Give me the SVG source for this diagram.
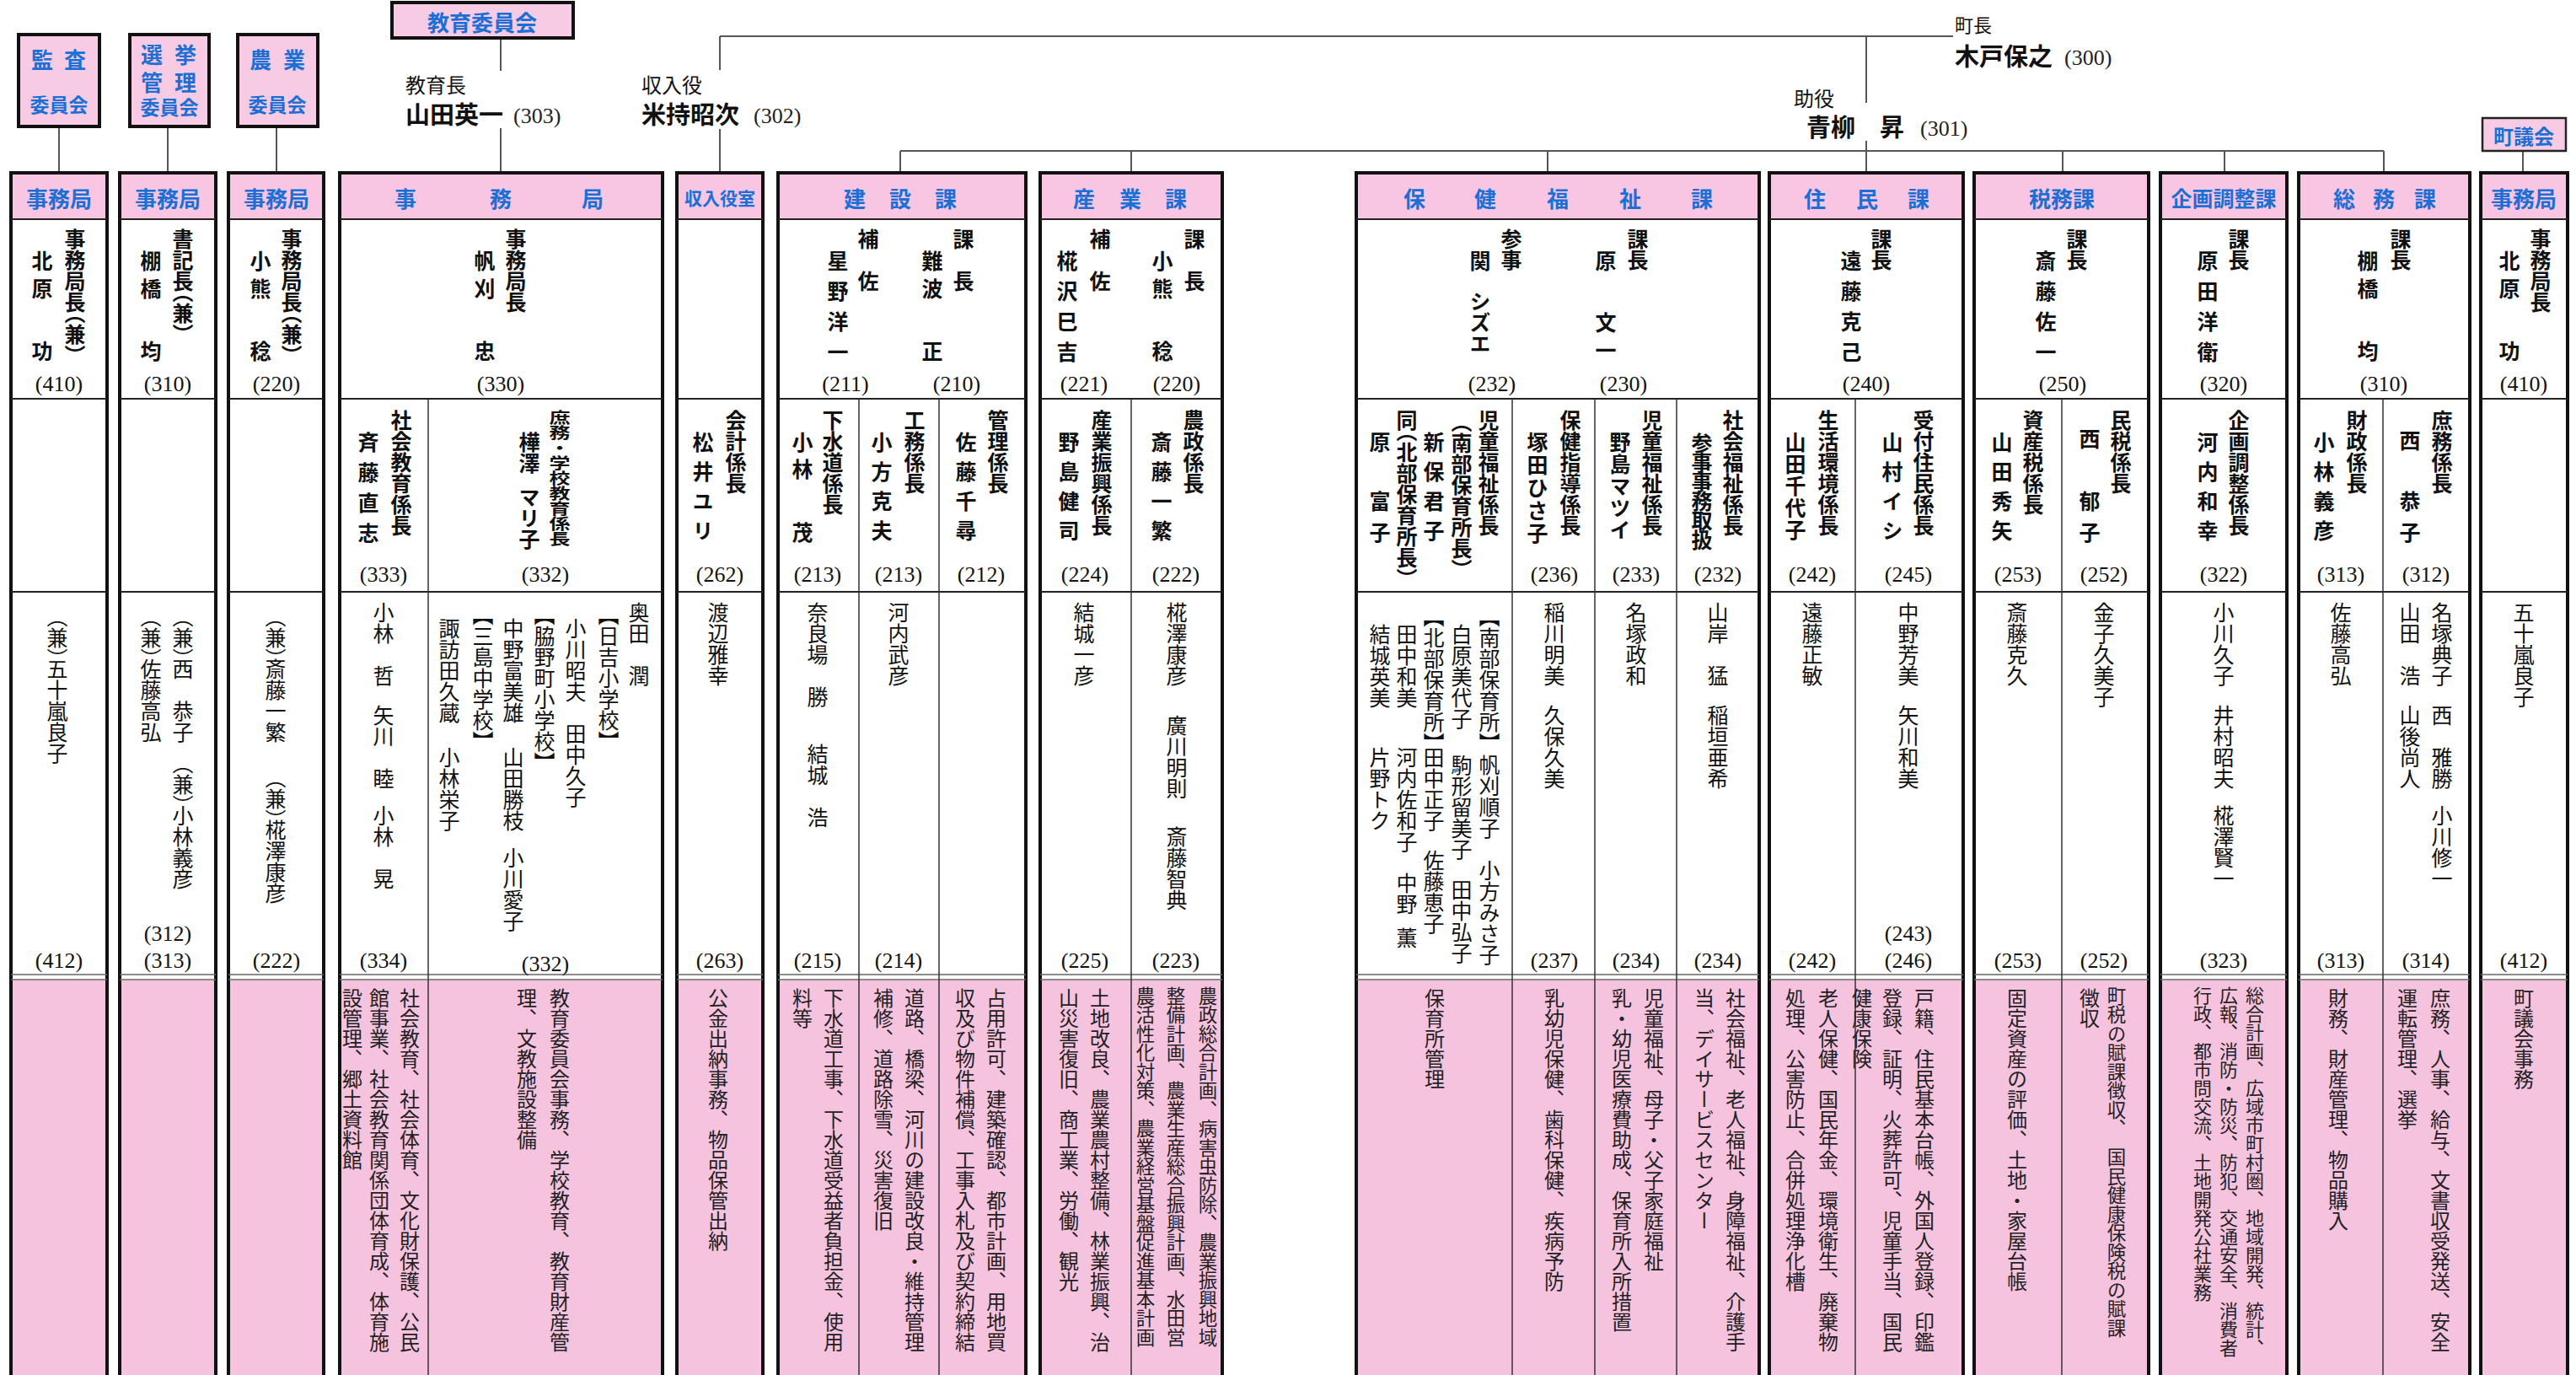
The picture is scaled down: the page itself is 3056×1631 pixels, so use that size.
<svg xmlns="http://www.w3.org/2000/svg" width="3056" height="1631" viewBox="0 0 3056 1631">
<style>
.bg{fill:#fff}
.box{fill:#fff;stroke:#111;stroke-width:4}
.hdr{fill:#f8c6e2}
.pk{fill:#f6c3df}
.cm{fill:#f8cbe4;stroke:#111;stroke-width:4}
.cm2{fill:#f8cbe4;stroke:#222;stroke-width:2.5}
.ln{stroke:#222;stroke-width:2;fill:none}
.ln1{stroke:#333;stroke-width:1.5;fill:none}
.dbl{stroke:#666;stroke-width:1.6;fill:none}
.con{stroke:#555;stroke-width:2;fill:none}
.bl{font-family:"Noto Sans CJK JP",sans-serif;font-weight:700;fill:#1c6fd4;font-size:26px;text-anchor:middle;dominant-baseline:central}
.v{font-family:"Noto Sans CJK JP",sans-serif;writing-mode:vertical-rl;font-size:25px;fill:#111}
.b{font-weight:700}
.d{font-size:24px;fill:#222}
.d2{font-size:22.5px}
.p{font-feature-settings:"vhal" 1}
.n{font-family:"Liberation Sans Narrow","Liberation Serif",serif;font-size:26px;text-anchor:middle;fill:#111}
.t{font-family:"Noto Sans CJK JP",sans-serif;font-size:24px;fill:#111}
.tb{font-family:"Noto Sans CJK JP",sans-serif;font-size:29px;font-weight:700;fill:#111}
.nt{font-family:"Liberation Serif",serif;font-size:26px;fill:#222}
</style>
<rect class="bg" x="0" y="0" width="3056" height="1631"/>

<g id="connectors">
<path class="con" d="M70 150V205M199 150V205M328 150V205M594 45V84M594 152V205M854 43V83M854 153V205M854 43H2317M2214 43V122M2214 167V205M1068 179H2828M1068 179V205M1342 179V205M1836 179V205M2447 179V205M2639 179V205M2828 179V205M2993 179V205"/>
</g>

<g id="officials">
<text class="t" x="481" y="110">教育長</text>
<text class="tb" x="481" y="147">山田英一</text>
<text class="nt" x="609" y="146">(303)</text>
<text class="t" x="761" y="110">収入役</text>
<text class="tb" x="761" y="147">米持昭次</text>
<text class="nt" x="894" y="146">(302)</text>
<text class="t" x="2319" y="38" style="font-size:22px">町長</text>
<text class="tb" x="2319" y="78">木戸保之</text>
<text class="nt" x="2449" y="77">(300)</text>
<text class="t" x="2128" y="126">助役</text>
<text class="tb" x="2143" y="162">青柳　昇</text>
<text class="nt" x="2278" y="161">(301)</text>
</g>

<g id="kansa-iinkai">
<rect class="cm" x="22" y="41" width="96" height="109"/>
<text class="bl" x="50 89" y="69">監査</text>
<text class="bl" x="70" y="123" style="font-size:23px">委員会</text>
</g>
<g id="senkyo-iinkai">
<rect class="cm" x="154" y="41" width="94" height="109"/>
<text class="bl" x="180 220" y="63">選挙</text>
<text class="bl" x="180 220" y="96">管理</text>
<text class="bl" x="201" y="126" style="font-size:23px">委員会</text>
</g>
<g id="nogyo-iinkai">
<rect class="cm" x="282" y="41" width="95" height="109"/>
<text class="bl" x="309 349" y="69">農業</text>
<text class="bl" x="329" y="123" style="font-size:23px">委員会</text>
</g>
<g id="kyoiku-iinkai">
<rect class="cm" x="465" y="3" width="215" height="42"/>
<text class="bl" x="572" y="25">教育委員会</text>
</g>
<g id="chogikai">
<rect class="cm2" x="2945" y="140" width="99" height="39"/>
<text class="bl" x="2994" y="160" style="font-size:24px">町議会</text>
</g>

<!-- 1 監査事務局 -->
<g id="kansa-jimukyoku">
<rect class="box" x="13" y="205" width="114" height="1440"/>
<rect class="hdr" x="15" y="207" width="110" height="53"/>
<rect class="pk" x="15" y="1163" width="110" height="480"/>
<path class="ln" d="M13 260H127M13 473H127M13 702H127"/>
<path class="dbl" d="M13 1156H127M13 1162H127"/>
<text class="bl" x="70" y="234">事務局</text>
<text class="v b" x="89" y="271">事務局長<tspan class="p">（</tspan>兼<tspan class="p">）</tspan></text>
<text class="v b" x="50" y="297" style="letter-spacing:8px">北原<tspan y="404">功</tspan></text>
<text class="n" x="70" y="464">(410)</text>
<text class="v" x="68" y="731"><tspan class="p">（</tspan>兼<tspan class="p">）</tspan>五十嵐良子</text>
<text class="n" x="70" y="1148">(412)</text>
</g>

<!-- 2 選挙事務局 -->
<g id="senkyo-jimukyoku">
<rect class="box" x="142" y="205" width="114" height="1440"/>
<rect class="hdr" x="144" y="207" width="110" height="53"/>
<rect class="pk" x="144" y="1163" width="110" height="480"/>
<path class="ln" d="M142 260H256M142 473H256M142 702H256"/>
<path class="dbl" d="M142 1156H256M142 1162H256"/>
<text class="bl" x="199" y="234">事務局</text>
<text class="v b" x="217" y="271">書記長<tspan class="p">（</tspan>兼<tspan class="p">）</tspan></text>
<text class="v b" x="179" y="297" style="letter-spacing:8px">棚橋<tspan y="404">均</tspan></text>
<text class="n" x="199" y="464">(310)</text>
<text class="v" x="217" y="731"><tspan class="p">（</tspan>兼<tspan class="p">）</tspan>西　恭子</text>
<text class="v" x="217" y="905"><tspan class="p">（</tspan>兼<tspan class="p">）</tspan>小林義彦</text>
<text class="v" x="179" y="731"><tspan class="p">（</tspan>兼<tspan class="p">）</tspan>佐藤高弘</text>
<text class="n" x="199" y="1116">(312)</text>
<text class="n" x="199" y="1148">(313)</text>
</g>

<!-- 3 農業事務局 -->
<g id="nogyo-jimukyoku">
<rect class="box" x="271" y="205" width="113" height="1440"/>
<rect class="hdr" x="273" y="207" width="109" height="53"/>
<rect class="pk" x="273" y="1163" width="109" height="480"/>
<path class="ln" d="M271 260H384M271 473H384M271 702H384"/>
<path class="dbl" d="M271 1156H384M271 1162H384"/>
<text class="bl" x="328" y="234">事務局</text>
<text class="v b" x="346" y="271">事務局長<tspan class="p">（</tspan>兼<tspan class="p">）</tspan></text>
<text class="v b" x="309" y="297" style="letter-spacing:8px">小熊<tspan y="404">稔</tspan></text>
<text class="n" x="328" y="464">(220)</text>
<text class="v" x="327" y="731"><tspan class="p">（</tspan>兼<tspan class="p">）</tspan>斎藤一繁</text>
<text class="v" x="327" y="922"><tspan class="p">（</tspan>兼<tspan class="p">）</tspan>椛澤康彦</text>
<text class="n" x="328" y="1148">(222)</text>
</g>

<!-- 4 教育委員会事務局 -->
<g id="kyoiku-jimukyoku">
<rect class="box" x="403" y="205" width="383" height="1440"/>
<rect class="hdr" x="405" y="207" width="379" height="53"/>
<rect class="pk" x="405" y="1163" width="379" height="480"/>
<path class="ln" d="M403 260H786M403 473H786M403 702H786"/>
<path class="dbl" d="M403 1156H786M403 1162H786"/>
<path class="ln1" d="M508 473V1645"/>
<text class="bl" x="481 594 703" y="234">事務局</text>
<text class="v b" x="612" y="271">事務局長</text>
<text class="v b" x="575" y="297" style="letter-spacing:8px">帆刈<tspan y="404">忠</tspan></text>
<text class="n" x="594" y="464">(330)</text>
<text class="v b" x="476" y="486">社会教育係長</text>
<text class="v b" x="437" y="512" style="letter-spacing:11px">斉藤直志</text>
<text class="n" x="455" y="690">(333)</text>
<text class="v b" x="664" y="0" transform="translate(0 486) scale(1 0.72)">庶務・学校教育係長</text>
<text class="v b" x="628" y="512">樺澤<tspan y="577">マリ子</tspan></text>
<text class="n" x="647" y="690">(332)</text>
<text class="v" x="455" y="714">小林　哲</text>
<text class="v" x="455" y="836">矢川　睦</text>
<text class="v" x="455" y="955">小林　晃</text>
<text class="n" x="455" y="1148">(334)</text>
<text class="v" x="758" y="714">奥田　潤</text>
<text class="v" x="722" y="729"><tspan class="p">【</tspan>日吉小学校<tspan class="p">】</tspan></text>
<text class="v" x="683" y="733">小川昭夫</text>
<text class="v" x="683" y="858">田中久子</text>
<text class="v" x="646" y="729"><tspan class="p">【</tspan>脇野町小学校<tspan class="p">】</tspan></text>
<text class="v" x="609" y="733">中野富美雄</text>
<text class="v" x="609" y="886">山田勝枝</text>
<text class="v" x="609" y="1005">小川愛子</text>
<text class="v" x="573" y="729"><tspan class="p">【</tspan>三島中学校<tspan class="p">】</tspan></text>
<text class="v" x="533" y="733">諏訪田久蔵</text>
<text class="v" x="533" y="886">小林栄子</text>
<text class="n" x="647" y="1152">(332)</text>
<text class="v d" x="486" y="1172">社会教育、社会体育、文化財保護、公民</text>
<text class="v d" x="450" y="1172">館事業、社会教育関係団体育成、体育施</text>
<text class="v d" x="418" y="1172">設管理、郷土資料館</text>
<text class="v d" x="664" y="1172">教育委員会事務、学校教育、教育財産管</text>
<text class="v d" x="625" y="1172">理、文教施設整備</text>
</g>

<!-- 5 収入役室 -->
<g id="shunyuyakushitsu">
<rect class="box" x="803" y="205" width="102" height="1440"/>
<rect class="hdr" x="805" y="207" width="98" height="53"/>
<rect class="pk" x="805" y="1163" width="98" height="480"/>
<path class="ln" d="M803 260H905M803 473H905M803 702H905"/>
<path class="dbl" d="M803 1156H905M803 1162H905"/>
<text class="bl" x="854" y="234" style="font-size:21px">収入役室</text>
<text class="v b" x="873" y="486">会計係長</text>
<text class="v b" x="834" y="512" style="letter-spacing:10px">松井ユリ</text>
<text class="n" x="854" y="690">(262)</text>
<text class="v" x="852" y="714">渡辺雅幸</text>
<text class="n" x="854" y="1148">(263)</text>
<text class="v d" x="852" y="1172">公金出納事務、物品保管出納</text>
</g>

<!-- 6 建設課 -->
<g id="kensetsuka">
<rect class="box" x="923" y="205" width="294" height="1440"/>
<rect class="hdr" x="925" y="207" width="290" height="53"/>
<rect class="pk" x="925" y="1163" width="290" height="480"/>
<path class="ln" d="M923 260H1217M923 473H1217M923 702H1217"/>
<path class="dbl" d="M923 1156H1217M923 1162H1217"/>
<path class="ln1" d="M1019 473V1645M1114 473V1645"/>
<text class="bl" x="1014 1068 1122" y="234">建設課</text>
<text class="v b" x="1143" y="271">課　長</text>
<text class="v b" x="1106" y="297" style="letter-spacing:8px">難波<tspan y="404">正</tspan></text>
<text class="v b" x="1030" y="271">補　佐</text>
<text class="v b" x="994" y="297" style="letter-spacing:11px">星野洋一</text>
<text class="n" x="1003" y="464">(211)</text>
<text class="n" x="1135" y="464">(210)</text>
<text class="v b" x="988" y="486">下水道係長</text>
<text class="v b" x="952" y="512" style="letter-spacing:7px">小林<tspan y="619">茂</tspan></text>
<text class="n" x="970" y="690">(213)</text>
<text class="v b" x="1085" y="486">工務係長</text>
<text class="v b" x="1046" y="512" style="letter-spacing:10px">小方克夫</text>
<text class="n" x="1066" y="690">(213)</text>
<text class="v b" x="1184" y="486">管理係長</text>
<text class="v b" x="1146" y="512" style="letter-spacing:10px">佐藤千尋</text>
<text class="n" x="1164" y="690">(212)</text>
<text class="v" x="970" y="714">奈良場　勝</text>
<text class="v" x="970" y="882">結城　浩</text>
<text class="n" x="970" y="1148">(215)</text>
<text class="v" x="1066" y="714">河内武彦</text>
<text class="n" x="1066" y="1148">(214)</text>
<text class="v d" x="989" y="1172">下水道工事、下水道受益者負担金、使用</text>
<text class="v d" x="952" y="1172">料等</text>
<text class="v d" x="1085" y="1172">道路、橋梁、河川の建設改良・維持管理</text>
<text class="v d" x="1048" y="1172">補修、道路除雪、災害復旧</text>
<text class="v d" x="1182" y="1172">占用許可、建築確認、都市計画、用地買</text>
<text class="v d" x="1145" y="1172">収及び物件補償、工事入札及び契約締結</text>
</g>

<!-- 7 産業課 -->
<g id="sangyoka">
<rect class="box" x="1234" y="205" width="216" height="1440"/>
<rect class="hdr" x="1236" y="207" width="212" height="53"/>
<rect class="pk" x="1236" y="1163" width="212" height="480"/>
<path class="ln" d="M1234 260H1450M1234 473H1450M1234 702H1450"/>
<path class="dbl" d="M1234 1156H1450M1234 1162H1450"/>
<path class="ln1" d="M1342 473V1645"/>
<text class="bl" x="1286 1341 1395" y="234">産業課</text>
<text class="v b" x="1417" y="271">課　長</text>
<text class="v b" x="1379" y="297" style="letter-spacing:8px">小熊<tspan y="404">稔</tspan></text>
<text class="v b" x="1305" y="271">補　佐</text>
<text class="v b" x="1266" y="297" style="letter-spacing:11px">椛沢巳吉</text>
<text class="n" x="1286" y="464">(221)</text>
<text class="n" x="1396" y="464">(220)</text>
<text class="v b" x="1307" y="486">産業振興係長</text>
<text class="v b" x="1268" y="512" style="letter-spacing:10px">野島健司</text>
<text class="n" x="1287" y="690">(224)</text>
<text class="v b" x="1416" y="486">農政係長</text>
<text class="v b" x="1378" y="512" style="letter-spacing:10px">斎藤一繁</text>
<text class="n" x="1395" y="690">(222)</text>
<text class="v" x="1286" y="714">結城一彦</text>
<text class="n" x="1287" y="1148">(225)</text>
<text class="v" x="1396" y="714">椛澤康彦</text>
<text class="v" x="1396" y="848">廣川明則</text>
<text class="v" x="1396" y="980">斎藤智典</text>
<text class="n" x="1395" y="1148">(223)</text>
<text class="v d" x="1305" y="1172">土地改良、農業農村整備、林業振興、治</text>
<text class="v d" x="1268" y="1172">山災害復旧、商工業、労働、観光</text>
<text class="v d d2" x="1433" y="1170">農政総合計画、病害虫防除、農業振興地域</text>
<text class="v d d2" x="1395" y="1170">整備計画、農業生産総合振興計画、水田営</text>
<text class="v d d2" x="1359" y="1170">農活性化対策、農業経営基盤促進基本計画</text>
</g>

<!-- 8 保健福祉課 -->
<g id="hokenfukushika">
<rect class="box" x="1609" y="205" width="478" height="1440"/>
<rect class="hdr" x="1611" y="207" width="474" height="53"/>
<rect class="pk" x="1611" y="1163" width="474" height="480"/>
<path class="ln" d="M1609 260H2087M1609 473H2087M1609 702H2087"/>
<path class="dbl" d="M1609 1156H2087M1609 1162H2087"/>
<path class="ln1" d="M1794 473V1645M1892 473V1645M1989 473V1645"/>
<text class="bl" x="1678 1762 1848 1934 2019" y="234">保健福祉課</text>
<text class="v b" x="1943" y="271">課長</text>
<text class="v b" x="1905" y="297">原<tspan y="370" style="letter-spacing:8px">文一</tspan></text>
<text class="v b" x="1793" y="271">参事</text>
<text class="v b" x="1756" y="297">関<tspan y="345">シズエ</tspan></text>
<text class="n" x="1770" y="464">(232)</text>
<text class="n" x="1926" y="464">(230)</text>
<text class="v b" x="2056" y="486">社会福祉係長</text>
<text class="v b" x="2019" y="513" style="letter-spacing:-2px">参事事務取扱</text>
<text class="n" x="2038" y="690">(232)</text>
<text class="v b" x="1960" y="486">児童福祉係長</text>
<text class="v b" x="1922" y="512" style="letter-spacing:1px">野島マツイ</text>
<text class="n" x="1941" y="690">(233)</text>
<text class="v b" x="1863" y="486">保健指導係長</text>
<text class="v b" x="1824" y="512" style="letter-spacing:2px">塚田ひさ子</text>
<text class="n" x="1844" y="690">(236)</text>
<text class="v b" x="1766" y="486">児童福祉係長</text>
<text class="v b" x="1734" y="500"><tspan class="p">（</tspan>南部保育所長<tspan class="p">）</tspan></text>
<text class="v b" x="1701" y="512" style="letter-spacing:10px">新保君子</text>
<text class="v b" x="1669" y="486">同<tspan class="p">（</tspan>北部保育所長<tspan class="p">）</tspan></text>
<text class="v b" x="1637" y="512">原<tspan y="582" style="letter-spacing:12px">富子</tspan></text>
<text class="v" x="2038" y="714">山岸　猛</text>
<text class="v" x="2038" y="836">稲垣亜希</text>
<text class="n" x="2038" y="1148">(234)</text>
<text class="v" x="1941" y="714">名塚政和</text>
<text class="n" x="1941" y="1148">(234)</text>
<text class="v" x="1844" y="714">稲川明美</text>
<text class="v" x="1844" y="836">久保久美</text>
<text class="n" x="1844" y="1148">(237)</text>
<text class="v" x="1767" y="731"><tspan class="p">【</tspan>南部保育所<tspan class="p">】</tspan><tspan y="895">帆刈順子</tspan><tspan y="1020">小方みさ子</tspan></text>
<text class="v" x="1734" y="740">白原美代子<tspan y="895">駒形留美子</tspan><tspan y="1043">田中弘子</tspan></text>
<text class="v" x="1701" y="731"><tspan class="p">【</tspan>北部保育所<tspan class="p">】</tspan><tspan y="886">田中正子</tspan><tspan y="1008">佐藤恵子</tspan></text>
<text class="v" x="1669" y="740">田中和美<tspan y="886">河内佐和子</tspan><tspan y="1035">中野</tspan><tspan y="1100">薫</tspan></text>
<text class="v" x="1637" y="740">結城英美<tspan y="886">片野トク</tspan></text>
<text class="v d" x="2059" y="1172">社会福祉、老人福祉、身障福祉、介護手</text>
<text class="v d" x="2022" y="1172">当、デイサービスセンター</text>
<text class="v d" x="1962" y="1172">児童福祉、母子・父子家庭福祉</text>
<text class="v d" x="1924" y="1172">乳・幼児医療費助成、保育所入所措置</text>
<text class="v d" x="1844" y="1172">乳幼児保健、歯科保健、疾病予防</text>
<text class="v d" x="1702" y="1172">保育所管理</text>
</g>

<!-- 9 住民課 -->
<g id="juminka">
<rect class="box" x="2099" y="205" width="230" height="1440"/>
<rect class="hdr" x="2101" y="207" width="226" height="53"/>
<rect class="pk" x="2101" y="1163" width="226" height="480"/>
<path class="ln" d="M2099 260H2329M2099 473H2329M2099 702H2329"/>
<path class="dbl" d="M2099 1156H2329M2099 1162H2329"/>
<path class="ln1" d="M2201 473V1645"/>
<text class="bl" x="2153 2215 2276" y="234">住民課</text>
<text class="v b" x="2232" y="271">課長</text>
<text class="v b" x="2196" y="297" style="letter-spacing:11px">遠藤克己</text>
<text class="n" x="2214" y="464">(240)</text>
<text class="v b" x="2282" y="486">受付住民係長</text>
<text class="v b" x="2245" y="512" style="letter-spacing:10px">山村イシ</text>
<text class="n" x="2264" y="690">(245)</text>
<text class="v b" x="2169" y="486">生活環境係長</text>
<text class="v b" x="2130" y="512" style="letter-spacing:1px">山田千代子</text>
<text class="n" x="2150" y="690">(242)</text>
<text class="v" x="2150" y="714">遠藤正敏</text>
<text class="n" x="2150" y="1148">(242)</text>
<text class="v" x="2264" y="714">中野芳美</text>
<text class="v" x="2264" y="836">矢川和美</text>
<text class="n" x="2264" y="1116">(243)</text>
<text class="n" x="2264" y="1148">(246)</text>
<text class="v d" x="2169" y="1172">老人保健、国民年金、環境衛生、廃棄物</text>
<text class="v d" x="2130" y="1172">処理、公害防止、合併処理浄化槽</text>
<text class="v d" x="2283" y="1172">戸籍、住民基本台帳、外国人登録、印鑑</text>
<text class="v d" x="2245" y="1172">登録、証明、火葬許可、児童手当、国民</text>
<text class="v d" x="2209" y="1172">健康保険</text>
</g>

<!-- 10 税務課 -->
<g id="zeimuka">
<rect class="box" x="2342" y="205" width="207" height="1440"/>
<rect class="hdr" x="2344" y="207" width="203" height="53"/>
<rect class="pk" x="2344" y="1163" width="203" height="480"/>
<path class="ln" d="M2342 260H2549M2342 473H2549M2342 702H2549"/>
<path class="dbl" d="M2342 1156H2549M2342 1162H2549"/>
<path class="ln1" d="M2446 473V1645"/>
<text class="bl" x="2446" y="234">税務課</text>
<text class="v b" x="2464" y="271">課長</text>
<text class="v b" x="2427" y="297" style="letter-spacing:11px">斎藤佐一</text>
<text class="n" x="2447" y="464">(250)</text>
<text class="v b" x="2516" y="486">民税係長</text>
<text class="v b" x="2479" y="508">西<tspan y="582" style="letter-spacing:12px">郁子</tspan></text>
<text class="n" x="2496" y="690">(252)</text>
<text class="v b" x="2412" y="486">資産税係長</text>
<text class="v b" x="2375" y="512" style="letter-spacing:10px">山田秀矢</text>
<text class="n" x="2394" y="690">(253)</text>
<text class="v" x="2393" y="714">斎藤克久</text>
<text class="n" x="2394" y="1148">(253)</text>
<text class="v" x="2496" y="714">金子久美子</text>
<text class="n" x="2496" y="1148">(252)</text>
<text class="v d" x="2393" y="1172">固定資産の評価、土地・家屋台帳</text>
<text class="v d d2" x="2511" y="1170">町税の賦課徴収、　国民健康保険税の賦課</text>
<text class="v d" x="2479" y="1172">徴収</text>
</g>

<!-- 11 企画調整課 -->
<g id="kikakuchoseika">
<rect class="box" x="2563" y="205" width="150" height="1440"/>
<rect class="hdr" x="2565" y="207" width="146" height="53"/>
<rect class="pk" x="2565" y="1163" width="146" height="480"/>
<path class="ln" d="M2563 260H2713M2563 473H2713M2563 702H2713"/>
<path class="dbl" d="M2563 1156H2713M2563 1162H2713"/>
<text class="bl" x="2638" y="234" style="font-size:25px">企画調整課</text>
<text class="v b" x="2656" y="271">課長</text>
<text class="v b" x="2619" y="297" style="letter-spacing:11px">原田洋衛</text>
<text class="n" x="2638" y="464">(320)</text>
<text class="v b" x="2656" y="486">企画調整係長</text>
<text class="v b" x="2619" y="512" style="letter-spacing:10px">河内和幸</text>
<text class="n" x="2638" y="690">(322)</text>
<text class="v" x="2638" y="714">小川久子</text>
<text class="v" x="2638" y="836">井村昭夫</text>
<text class="v" x="2638" y="955">椛澤賢一</text>
<text class="n" x="2638" y="1148">(323)</text>
<text class="v d" x="2675" y="1170" style="font-size:22px">総合計画、広域市町村圏、地域開発、統計、</text>
<text class="v d" x="2644" y="1170" style="font-size:22px">広報、消防・防災、防犯、交通安全、消費者</text>
<text class="v d" x="2613" y="1170" style="font-size:22px">行政、都市問交流、土地開発公社業務</text>
</g>

<!-- 12 総務課 -->
<g id="somuka">
<rect class="box" x="2727" y="205" width="203" height="1440"/>
<rect class="hdr" x="2729" y="207" width="199" height="53"/>
<rect class="pk" x="2729" y="1163" width="199" height="480"/>
<path class="ln" d="M2727 260H2930M2727 473H2930M2727 702H2930"/>
<path class="dbl" d="M2727 1156H2930M2727 1162H2930"/>
<path class="ln1" d="M2827 473V1645"/>
<text class="bl" x="2781 2828 2877" y="234">総務課</text>
<text class="v b" x="2848" y="271">課長</text>
<text class="v b" x="2809" y="297" style="letter-spacing:8px">棚橋<tspan y="404">均</tspan></text>
<text class="n" x="2828" y="464">(310)</text>
<text class="v b" x="2897" y="486">庶務係長</text>
<text class="v b" x="2859" y="510">西<tspan y="582" style="letter-spacing:12px">恭子</tspan></text>
<text class="n" x="2878" y="690">(312)</text>
<text class="v b" x="2796" y="486">財政係長</text>
<text class="v b" x="2757" y="512" style="letter-spacing:10px">小林義彦</text>
<text class="n" x="2777" y="690">(313)</text>
<text class="v" x="2777" y="714">佐藤高弘</text>
<text class="n" x="2777" y="1148">(313)</text>
<text class="v" x="2897" y="714">名塚典子</text>
<text class="v" x="2897" y="836">西　雅勝</text>
<text class="v" x="2897" y="955">小川修一</text>
<text class="v" x="2859" y="714">山田　浩</text>
<text class="v" x="2859" y="836">山後尚人</text>
<text class="n" x="2878" y="1148">(314)</text>
<text class="v d" x="2774" y="1172">財務、財産管理、物品購入</text>
<text class="v d" x="2895" y="1172">庶務、人事、給与、文書収受発送、安全</text>
<text class="v d" x="2856" y="1172">運転管理、選挙</text>
</g>

<!-- 13 議会事務局 -->
<g id="gikai-jimukyoku">
<rect class="box" x="2943" y="205" width="103" height="1440"/>
<rect class="hdr" x="2945" y="207" width="99" height="53"/>
<rect class="pk" x="2945" y="1163" width="99" height="480"/>
<path class="ln" d="M2943 260H3046M2943 473H3046M2943 702H3046"/>
<path class="dbl" d="M2943 1156H3046M2943 1162H3046"/>
<text class="bl" x="2994" y="234">事務局</text>
<text class="v b" x="3014" y="271">事務局長</text>
<text class="v b" x="2977" y="297" style="letter-spacing:8px">北原<tspan y="404">功</tspan></text>
<text class="n" x="2994" y="464">(410)</text>
<text class="v" x="2994" y="714">五十嵐良子</text>
<text class="n" x="2994" y="1148">(412)</text>
<text class="v d" x="2994" y="1172">町議会事務</text>
</g>
</svg>
